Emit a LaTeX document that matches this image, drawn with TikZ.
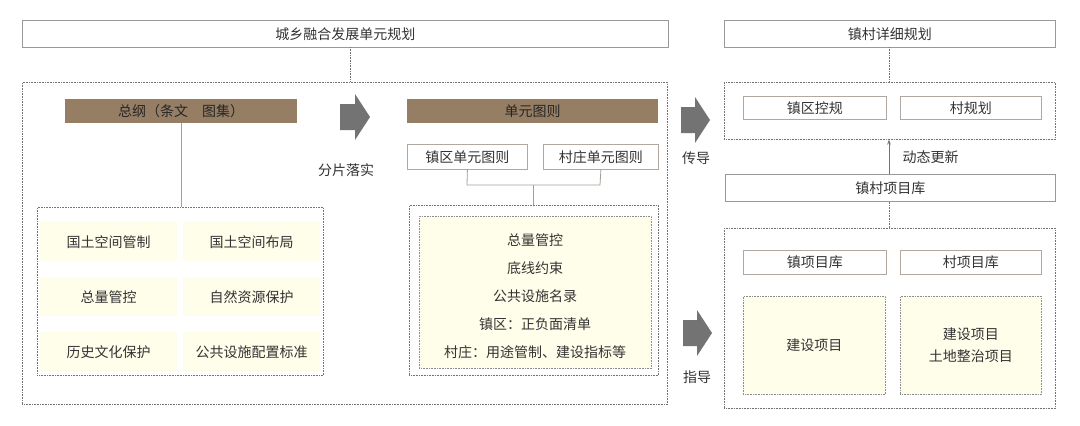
\documentclass[tikz,border=0pt]{standalone}
\usepackage{fontspec}
\setmainfont{Noto Sans CJK SC}
\usetikzlibrary{arrows.meta}
\begin{document}
\begin{tikzpicture}[x=1pt,y=-1pt,
  txt/.style={font=\fontsize{14}{16}\selectfont, text=black!80},
  titlebox/.style={draw=black!40, line width=0.8pt, fill=white, txt},
  brownbar/.style={fill=brown!55!black!70, draw=none, txt, text=black!85},
  subbox/.style={draw=brown!30!black!40, line width=0.8pt, fill=white, txt},
  dashbox/.style={draw=black!55, densely dotted, line width=0.6pt},
  beige/.style={fill=orange!10!yellow!8, draw=none, txt},
  beigedash/.style={fill=orange!10!yellow!8, draw=black!45, densely dotted, line width=0.6pt, txt},
  conn/.style={draw=brown!30!black!45, line width=0.8pt},
  blockarrow/.style={fill=black!55, draw=none},
  lbl/.style={txt}]
\useasboundingbox (0,0) rectangle (1080,426);
\fill[white] (0,0) rectangle (1080,426);
% top titles
\node[titlebox, minimum width=646, minimum height=27, anchor=north west] (t1) at (22,20) {城乡融合发展单元规划};
\node[titlebox, minimum width=331, minimum height=27, anchor=north west] (t2) at (724,20) {镇村详细规划};
% main dashed box
\node[dashbox, minimum width=645, minimum height=322, anchor=north west] (main) at (22,82) {};
\draw[dashbox] (350,47) -- (350,82);
% left part
\node[brownbar, minimum width=232, minimum height=24, anchor=north west] (zg) at (65,99) {总纲（条文\quad 图集）};
\node[dashbox, minimum width=286, minimum height=168, anchor=north west] (lbox) at (37,207) {};
\draw[conn] (181,123) -- (181,207);
\foreach \t [count=\i] in {国土空间管制,总量管控,历史文化保护}{
  \pgfmathsetmacro\yy{222+(\i-1)*55}
  \node[beige, minimum width=137, minimum height=39, anchor=north west] (l\i) at (40,\yy) {\t};}
\foreach \t [count=\i] in {国土空间布局,自然资源保护,公共设施配置标准}{
  \pgfmathsetmacro\yy{222+(\i-1)*55}
  \node[beige, minimum width=137, minimum height=39, anchor=north west, inner sep=0pt] (r\i) at (183,\yy) {\t};}
% arrow 1
\fill[blockarrow] (340,104) -- (355,104) -- (355,94) -- (370,117) -- (355,140) -- (355,130) -- (340,130) -- cycle;
\node[lbl] (fp) at (346,170) {分片落实};
% middle part
\node[brownbar, minimum width=251, minimum height=24, anchor=north west] (dy) at (407,99) {单元图则};
\node[subbox, minimum width=120, minimum height=25, anchor=north west, inner sep=1pt] (zq) at (407,144) {镇区单元图则};
\node[subbox, minimum width=115, minimum height=25, anchor=north west, inner sep=1pt] (cz) at (543,144) {村庄单元图则};
\node[dashbox, minimum width=249, minimum height=170, anchor=north west] (mbox) at (409,205) {};
\node[beigedash, minimum width=232, minimum height=152, anchor=north west] (mi) at (419,216) {};
\foreach \t [count=\i] in {总量管控,底线约束,公共设施名录,镇区：正负面清单,村庄：用途管制、建设指标等}{
  \pgfmathsetmacro\yy{240+(\i-1)*28}
  \node[txt] (m\i) at (535,\yy) {\t};}
\draw[conn] (zq.south) -- (467,185) -- (600,185) -- (cz.south);
\draw[conn] (533,185) -- (mbox.north -| 533,0);
% arrows 2,3
\fill[blockarrow] (681,107) -- (695,107) -- (695,97) -- (710,120) -- (695,143) -- (695,133) -- (681,133) -- cycle;
\node[lbl] (cd) at (696,158) {传导};
\fill[blockarrow] (683,320) -- (697,320) -- (697,310) -- (712,333) -- (697,356) -- (697,346) -- (683,346) -- cycle;
\node[lbl] (zd) at (697,377) {指导};
% right part
\draw[dashbox] (889,47) -- (889,82);
\node[dashbox, minimum width=331, minimum height=57, anchor=north west] (rt) at (724,82) {};
\node[subbox, minimum width=143, minimum height=23, anchor=north west] (zqk) at (743,96) {镇区控规};
\node[subbox, minimum width=141, minimum height=23, anchor=north west] (cgh) at (900,96) {村规划};
\node[titlebox, minimum width=330, minimum height=27, anchor=north west] (xmk) at (725,174) {镇村项目库};
\draw[-{Stealth[length=5pt]}, black!55, line width=1pt] (xmk.north -| 889,0) -- (rt.south -| 889,0);
\node[lbl, anchor=west] (dt) at (899,157) {动态更新};
\node[dashbox, minimum width=331, minimum height=180, anchor=north west] (rb) at (724,228) {};
\draw[dashbox] (xmk.south -| 889,0) -- (rb.north -| 889,0);
\node[subbox, minimum width=143, minimum height=24, anchor=north west] (zx) at (743,250) {镇项目库};
\node[subbox, minimum width=141, minimum height=24, anchor=north west] (cx) at (900,250) {村项目库};
\node[beigedash, minimum width=142, minimum height=98, anchor=north west] (js1) at (743,296) {建设项目};
\node[beigedash, minimum width=141, minimum height=98, anchor=north west, align=center] (js2) at (900,296) {建设项目\\[6pt]土地整治项目};
\end{tikzpicture}
\end{document}
